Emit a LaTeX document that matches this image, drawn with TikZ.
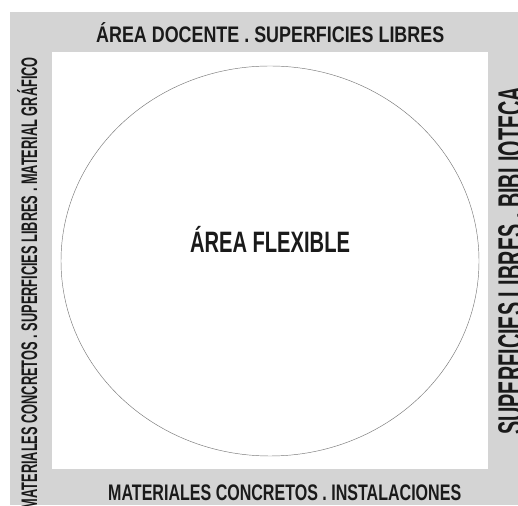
\documentclass[tikz,border=0pt]{standalone}
\usepackage{fontspec}
\setmainfont{Liberation Sans}
\usepackage{graphicx}
\definecolor{framegray}{RGB}{212,212,212}
\definecolor{txt}{RGB}{26,26,26}
\definecolor{ringgray}{RGB}{120,120,120}
\newcommand\fitw[2]{\resizebox{#1}{\height}{#2}}
\begin{document}
\begin{tikzpicture}[x=1pt,y=1pt,
  lbl/.style={inner sep=0pt,text=txt,font=\bfseries\fontsize{22.5}{22.5}\selectfont},
  biglbl/.style={inner sep=0pt,text=txt,font=\bfseries\fontsize{35}{35}\selectfont},
  centerlbl/.style={inner sep=0pt,text=txt,font=\bfseries\fontsize{29.5}{29.5}\selectfont}]
\useasboundingbox (0,0) rectangle (518,505);
\clip (0,0) rectangle (518,505);
\fill[framegray] (10,0) rectangle (530,493);
\fill[white] (52,36) rectangle (488,453);
\draw[ringgray,line width=0.45pt] (270,244) ellipse [x radius=209, y radius=195];
\node[lbl,anchor=base west] (top) at (96,462.5) {\fitw{348pt}{ÁREA DOCENTE . SUPERFICIES LIBRES}};
\node[lbl,anchor=base west] (bottom) at (108,5) {\fitw{353pt}{MATERIALES CONCRETOS . INSTALACIONES}};
\node[lbl,anchor=base east,rotate=90] (left) at (37,448) {\fitw{452pt}{MATERIALES CONCRETOS . SUPERFICIES LIBRES . MATERIAL GRÁFICO}};
\node[biglbl,anchor=base west,rotate=90] (right) at (522.5,70) {\fitw{348pt}{SUPERFICIES LIBRES . BIBLIOTECA}};
\node[centerlbl,anchor=base] (center) at (270,252) {\fitw{160pt}{ÁREA FLEXIBLE}};
\end{tikzpicture}
\end{document}
